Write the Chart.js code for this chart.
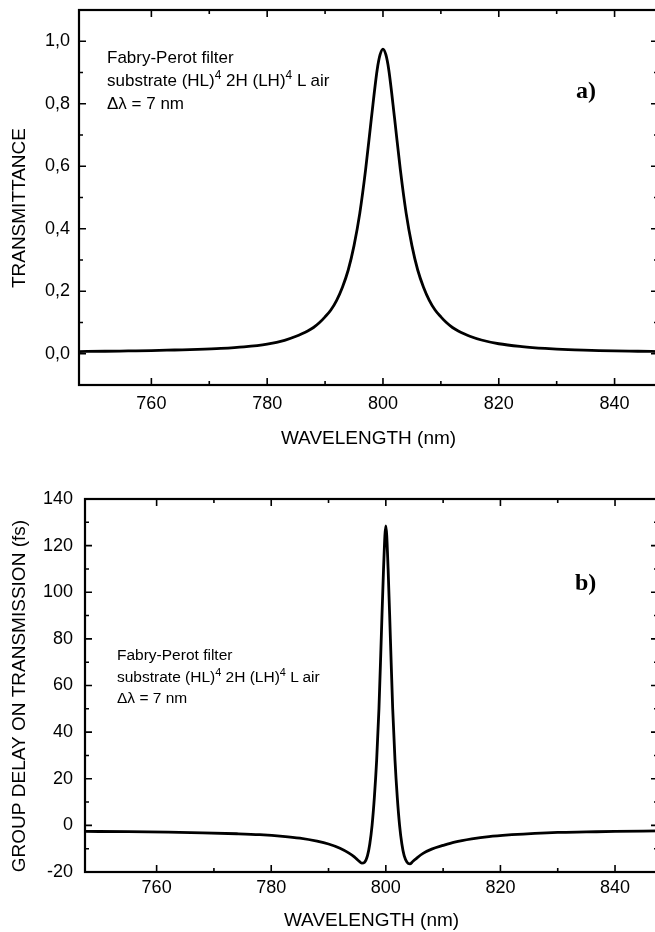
<!DOCTYPE html>
<html>
<head>
<meta charset="utf-8">
<script src="https://cdn.jsdelivr.net/npm/chart.js"></script>
<style>
html,body{margin:0;padding:0;overflow:hidden;background:#fff;}
#wrap{position:relative;width:655px;height:932px;overflow:hidden;}
canvas{position:absolute;left:0;}
.note{position:absolute;font-family:"Liberation Sans",Arial,sans-serif;color:#000;white-space:nowrap;}
.note sup{font-size:0.7em;line-height:0;vertical-align:baseline;position:relative;top:-0.55em;}
.tag{position:absolute;font-family:"Liberation Serif","Times New Roman",serif;font-weight:bold;font-size:24px;line-height:24px;color:#000;}
</style>
</head>
<body>
<div id="wrap">
  <canvas id="chartA" width="660" height="450" style="top:0px"></canvas>
  <canvas id="chartB" width="660" height="482" style="top:450px"></canvas>
  <div class="note" style="left:107px;top:46px;font-size:17px;line-height:23px">Fabry-Perot filter<br>substrate (HL)<sup>4</sup> 2H (LH)<sup>4</sup> L air<br>&Delta;&lambda; = 7 nm</div>
  <div class="tag" style="left:576px;top:78px">a)</div>
  <div class="note" style="left:117px;top:644px;font-size:15.5px;line-height:21.5px">Fabry-Perot filter<br>substrate (HL)<sup>4</sup> 2H (LH)<sup>4</sup> L air<br>&Delta;&lambda; = 7 nm</div>
  <div class="tag" style="left:575px;top:570px">b)</div>
</div>
<script>
// wavelength ticks shared by both panels
const xTicks = [760, 780, 800, 820, 840];
const xMinor = [770, 790, 810, 830];

// panel a) transmittance
const wlA = [747.5, 752, 756, 760, 764, 768, 772, 776, 780, 783, 785, 786, 787, 788, 789, 790, 791, 792, 793, 794, 795, 796, 797, 798, 799, 799.5,
  800, 800.5, 801, 802, 803, 804, 805, 806, 807, 808, 809, 810, 811, 812, 813, 814, 815, 817, 820, 824, 828, 832, 836, 840, 844, 847.5];
const transA = [0.007, 0.008, 0.009, 0.010, 0.012, 0.014, 0.017, 0.022, 0.031, 0.043, 0.056, 0.064, 0.073, 0.084, 0.099, 0.118, 0.140, 0.171, 0.213, 0.268, 0.346, 0.450, 0.589, 0.754, 0.909, 0.957,
  0.975, 0.957, 0.909, 0.754, 0.589, 0.450, 0.346, 0.268, 0.213, 0.171, 0.140, 0.118, 0.099, 0.084, 0.073, 0.064, 0.056, 0.044, 0.032, 0.023, 0.017, 0.013, 0.011, 0.009, 0.008, 0.007];
const yTicksA = [0, 0.2, 0.4, 0.6, 0.8, 1.0];
const yMinorA = [0.1, 0.3, 0.5, 0.7, 0.9];

// panel b) group delay
const wlB = [747.5, 755, 762, 768, 774, 778, 782, 785, 788, 790, 792, 793.5, 794.5, 795.3, 795.8, 796.3, 796.8, 797.2, 797.6, 798, 798.4, 798.8, 799.2, 799.6,
  800, 800.4, 800.8, 801.2, 801.6, 802, 802.4, 802.8, 803.2, 803.7, 804.2, 804.7, 805.5, 806.5, 808, 810, 812, 815, 818, 822, 826, 830, 835, 840, 847.5];
const delayB = [-2.6, -2.7, -2.9, -3.2, -3.6, -4.0, -4.7, -5.5, -6.8, -8.0, -9.8, -11.8, -13.5, -15.3, -16.2, -15.8, -13, -8, 0, 12, 28, 50, 80, 110,
  128.5, 110, 80, 50, 28, 12, 0, -8, -13, -15.8, -16.5, -15.5, -13.8, -12, -10.2, -8.6, -7.2, -5.8, -4.8, -4.0, -3.4, -3.0, -2.8, -2.6, -2.4];
const yTicksB = [-20, 0, 20, 40, 60, 80, 100, 120, 140];
const yMinorB = [-10, 10, 30, 50, 70, 90, 110, 130];

const FONT = '"Liberation Sans", Arial, sans-serif';

// box frame with inward ticks on all four sides
const frameTicks = {
  id: 'frameTicks',
  afterDatasetsDraw(chart, args, o) {
    const ctx = chart.ctx, a = chart.chartArea, x = chart.scales.x, y = chart.scales.y;
    ctx.save();
    ctx.strokeStyle = '#000';
    ctx.lineWidth = 1.6;
    ctx.beginPath();
    const xt = (list, len) => list.forEach(v => {
      const p = x.getPixelForValue(v);
      ctx.moveTo(p, a.bottom); ctx.lineTo(p, a.bottom - len);
      ctx.moveTo(p, a.top); ctx.lineTo(p, a.top + len);
    });
    const yt = (list, len) => list.forEach(v => {
      const p = y.getPixelForValue(v);
      ctx.moveTo(a.left, p); ctx.lineTo(a.left + len, p);
      ctx.moveTo(a.right, p); ctx.lineTo(a.right - len, p);
    });
    xt(o.xMajor, 7); xt(o.xMinor, 4);
    yt(o.yMajor, 7); yt(o.yMinor, 4);
    ctx.stroke();
    ctx.lineWidth = 2.2;
    ctx.strokeRect(a.left, a.top, a.right - a.left, a.bottom - a.top);
    ctx.restore();
  }
};

function makeChart(id, xs, ys, opt) {
  const pts = xs.map((v, i) => ({x: v, y: ys[i]}));
  return new Chart(document.getElementById(id), {
    type: 'line',
    data: {datasets: [{data: pts, borderColor: '#000', borderWidth: 2.8, pointRadius: 0, fill: false, cubicInterpolationMode: 'monotone'}]},
    options: {
      responsive: false,
      animation: false,
      layout: {padding: {top: opt.padTop, right: 2, left: 0, bottom: 0}},
      plugins: {legend: {display: false}, tooltip: {enabled: false},
        frameTicks: {xMajor: xTicks, xMinor: xMinor, yMajor: opt.yMajor, yMinor: opt.yMinor}},
      scales: {
        x: {
          type: 'linear', min: 747.5, max: 847.5,
          grid: {display: false, drawTicks: false}, border: {display: false},
          afterBuildTicks: s => { s.ticks = xTicks.map(v => ({value: v})); },
          ticks: {color: '#000', font: {family: FONT, size: 18}, padding: opt.xPad, maxRotation: 0, autoSkip: false, callback: v => String(v)},
          title: {display: true, text: 'WAVELENGTH (nm)', color: '#000', font: {family: FONT, size: 19}, padding: {top: 0, bottom: 0}},
          afterFit: s => { s.height = opt.xHeight; s.paddingLeft = 0; s.paddingRight = 0; }
        },
        y: {
          type: 'linear', min: opt.yMin, max: opt.yMax,
          grid: {display: false, drawTicks: false}, border: {display: false},
          afterBuildTicks: s => { s.ticks = opt.yLabels.map(v => ({value: v})); },
          ticks: {color: '#000', font: {family: FONT, size: 18}, padding: opt.yPad, autoSkip: false, callback: opt.fmt},
          title: {display: true, text: opt.title, color: '#000', font: {family: FONT, size: 19}, padding: {top: 8, bottom: 0}},
          afterFit: s => { s.width = opt.yWidth; s.paddingTop = 0; s.paddingBottom = 0; }
        }
      }
    },
    plugins: [frameTicks]
  });
}

makeChart('chartA', wlA, transA, {
  padTop: 10, xHeight: 65, xPad: 8, yWidth: 79, yPad: 9,
  yMin: -0.1, yMax: 1.1, yLabels: yTicksA, yMajor: yTicksA, yMinor: yMinorA,
  fmt: v => v.toFixed(1).replace('.', ','),
  title: 'TRANSMITTANCE    '
});

makeChart('chartB', wlB, delayB, {
  padTop: 49, xHeight: 60, xPad: 5, yWidth: 85, yPad: 12,
  yMin: -20, yMax: 140, yLabels: yTicksB, yMajor: yTicksB, yMinor: yMinorB,
  fmt: v => String(v),
  title: 'GROUP DELAY ON TRANSMISSION (fs)    '
});
</script>
</body>
</html>
